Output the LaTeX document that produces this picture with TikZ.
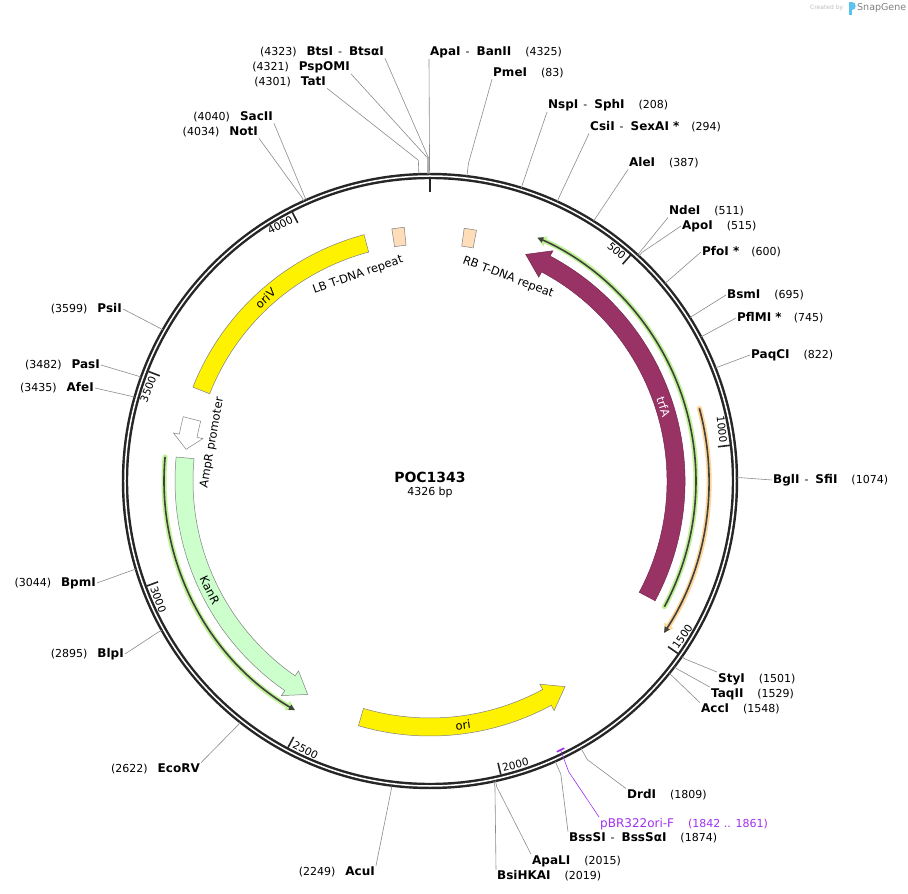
\documentclass[tikz,border=0pt]{standalone}
\usepackage{fontspec}
\setmainfont{DejaVu Sans}
\usetikzlibrary{arrows.meta}

\definecolor{sitegray}{HTML}{8C8C8C}
\definecolor{trfa}{HTML}{993366}
\definecolor{kanr}{HTML}{CCFFCC}
\definecolor{tdna}{HTML}{FFDDB8}
\definecolor{orfgreen}{HTML}{BFF293}
\definecolor{orforange}{HTML}{FFD596}
\definecolor{primer}{HTML}{A030F0}
\definecolor{sgblue}{HTML}{5BC4EE}

% enzyme name, bold and a bit larger than the position
\newcommand{\nm}[1]{{\fontsize{12}{14}\selectfont\bfseries #1}}
\newcommand{\dsh}{\hspace{5pt}-\hspace{7pt}}
% name, bp, bend radius, label point, label anchor, line anchor, text
\newcommand{\site}[7]{%
  \coordinate (#1c) at ({ang(#2)}:307pt);
  \coordinate (#1b) at ({ang(#2)}:#3pt);
  \node[enz, anchor=#5] (#1) at (#4) {#7};
  \draw[siteline] (#1c) -- (#1b) -- (#1.#6);}
% feature band without / with head
\newcommand{\featbox}[3]{%
  \draw[#1] (#2:237pt) arc[start angle=#2, end angle=#3, radius=237pt]
    -- (#3:255pt) arc[start angle=#3, end angle=#2, radius=255pt] -- cycle;}
\newcommand{\featarrow}[4]{%
  \pgfmathsetmacro\hb{#3-#4}
  \draw[#1] (#2:237pt) arc[start angle=#2, end angle=\hb, radius=237pt]
    -- (\hb:231pt) -- (#3:246pt) -- (\hb:261pt) -- (\hb:255pt)
    arc[start angle=\hb, end angle=#2, radius=255pt] -- cycle;}
% open reading frame: glow colour, radius, from, to
\newcommand{\orfline}[4]{%
  \draw[line width=5pt, #1, line cap=round, -{Triangle[length=9pt,width=10pt]}]
    (#3:#2pt) arc[start angle=#3, end angle=#4, radius=#2pt];
  \draw[line width=1.6pt, black!75, -{Triangle[length=6pt,width=5.5pt]}]
    (#3:#2pt) arc[start angle=#3, end angle=#4, radius=#2pt];}

\begin{document}
\begin{tikzpicture}[x=1pt, y=1pt,
  declare function={ang(\p)=90-\p/12.016667;},
  enz/.style={font=\fontsize{11}{13}\selectfont, inner sep=1pt},
  siteline/.style={draw=sitegray, line width=0.6pt},
  flab/.style={font=\fontsize{11.5}{13}\selectfont, inner sep=0pt},
  scaletick/.style={line width=1.6pt, black!85},
  tickl/.style={font=\fontsize{10.5}{12}\selectfont, inner sep=0.5pt},
  feat/.style={draw=black!50, line width=0.5pt}]
  \useasboundingbox (-430,-413) rectangle (478,481);
  \fill[white] (-430,-413) rectangle (478,481);

  % ORFs
  \orfline{orfgreen}{266}{-28.2}{66.2}
  \orfline{orforange}{279}{15.1}{-33}
  \orfline{orfgreen}{266}{174.8}{239.5}

  % features
  \featbox{feat, fill=yellow}{105}{158.4}
  \featbox{feat, fill=tdna}{95.8}{98.6}
  \featbox{feat, fill=tdna}{79.5}{82.3}
  \featarrow{feat, fill=white}{165.4}{172.6}{3.2}
  \featarrow{feat, fill=kanr}{174.6}{240.2}{4.9}
  \featarrow{feat, fill=yellow}{253.7}{303.3}{4.9}
  \featarrow{draw=trfa!75!black, line width=0.5pt, fill=trfa}{-28}{67.1}{5.2}

  \node[flab, rotate=42] (oriV) at (132:246pt) {oriV};
  \node[flab, rotate=19.3] (lbrep) at (109.3:218pt) {LB T-DNA repeat};
  \node[flab, rotate=-21] (rbrep) at (69:218pt) {RB T-DNA repeat};
  \node[flab, rotate=80] (ampp) at (170:221pt) {AmpR promoter};
  \node[flab, rotate=-63.6] (kanR) at (206.4:246pt) {KanR};
  \node[flab, rotate=7.7] (ori) at (277.7:246pt) {ori};
  \node[flab, rotate=-72.4, text=white] (trfA) at (17.6:245pt) {trfA};

  % backbone
  \draw[line width=6.4pt, black!85] (0,0) circle[radius=305pt];
  \draw[line width=1.5pt, white] (0,0) circle[radius=305pt];
  \draw[line width=2.6pt, black!85] (90:289pt) -- (90:303pt);
  \foreach \t in {500,1000,...,4000}{
    \pgfmathsetmacro\th{ang(\t)}
    \pgfmathtruncatemacro\up{sin(\th)>0}
    \ifnum\up=1 \def\anc{east}\def\rot{\th-90}\else\def\anc{west}\def\rot{\th+90}\fi
    \draw[scaletick] (\th:290pt) -- (\th:302pt);
    \node[tickl, anchor=\anc, rotate=\rot] (t\t) at ({\th+0.5}:296pt) {\t};
  }

  % primer
  \draw[primer, line width=1.6pt] (-63.3:299pt) arc[start angle=-63.3, end angle=-64.9, radius=299pt];
  \coordinate (pmark) at (-64.1:299pt);
  \coordinate (pbend) at (-64.5:322pt);
  \node[enz, anchor=north west, text=primer] (pbrF) at (169,-336)
    {{\fontsize{12}{14}\selectfont pBR322ori-F}\hspace{14pt}(1842 .. 1861)};
  \draw[primer, line width=0.6pt] (pmark) -- (pbend) -- (pbrF.north west);

  % restriction sites
  \site{apaI}{4325}{320}{-1,429}{west}{south west}{\nm{ApaI}\dsh\nm{BanII}\hspace{14pt}(4325)}
  \site{pmeI}{83}{320}{62,408}{west}{south west}{\nm{PmeI}\hspace{14pt}(83)}
  \site{nspI}{208}{311}{117,376}{west}{south west}{\nm{NspI}\dsh\nm{SphI}\hspace{14pt}(208)}
  \site{csiI}{294}{314}{159,354}{west}{south west}{\nm{CsiI}\dsh\nm{SexAI *}\hspace{12pt}(294)}
  \site{aleI}{387}{312}{198,318}{west}{south west}{\nm{AleI}\hspace{14pt}(387)}
  \site{ndeI}{511}{311}{238,270}{west}{south west}{\nm{NdeI}\hspace{14pt}(511)}
  \site{apoI}{515}{312}{251,255}{west}{west}{\nm{ApoI}\hspace{14pt}(515)}
  \site{pfoI}{600}{311}{271,229}{west}{west}{\nm{PfoI *}\hspace{12pt}(600)}
  \site{bsmI}{695}{311}{296,186}{west}{west}{\nm{BsmI}\hspace{14pt}(695)}
  \site{pflMI}{745}{311}{306,163}{west}{west}{\nm{PflMI *}\hspace{12pt}(745)}
  \site{paqCI}{822}{311}{320,126}{west}{west}{\nm{PaqCI}\hspace{14pt}(822)}
  \site{bglI}{1074}{310}{342,1}{west}{west}{\nm{BglI}\dsh\nm{SfiI}\hspace{14pt}(1074)}
  \site{styI}{1501}{311}{287,-198}{west}{north west}{\nm{StyI}\hspace{14pt}(1501)}
  \site{taqII}{1529}{311}{280,-213}{west}{north west}{\nm{TaqII}\hspace{14pt}(1529)}
  \site{accI}{1548}{310}{270,-228}{west}{north west}{\nm{AccI}\hspace{14pt}(1548)}
  \site{drdI}{1809}{320}{196,-314}{west}{north west}{\nm{DrdI}\hspace{14pt}(1809)}
  \site{bssSI}{1874}{321}{138,-357}{west}{north west}{\nm{BssSI}\dsh\nm{BssSαI}\hspace{14pt}(1874)}
  \site{apaLI}{2015}{313}{101,-380}{west}{north west}{\nm{ApaLI}\hspace{14pt}(2015)}
  \site{bsiHKAI}{2019}{313}{66,-395}{west}{north west}{\nm{BsiHKAI}\hspace{14pt}(2019)}
  \site{btsI}{4323}{323}{-45,429}{east}{south east}{(4323)\hspace{10pt}\nm{BtsI}\dsh\nm{BtsαI}}
  \site{pspOMI}{4321}{323}{-79,414}{east}{south east}{(4321)\hspace{10pt}\nm{PspOMI}}
  \site{tatI}{4301}{321}{-103,399}{east}{south east}{(4301)\hspace{10pt}\nm{TatI}}
  \site{sacII}{4040}{311}{-156,364}{east}{south east}{(4040)\hspace{10pt}\nm{SacII}}
  \site{notI}{4034}{311}{-171,349}{east}{south east}{(4034)\hspace{10pt}\nm{NotI}}
  \site{psiI}{3599}{311}{-307,172}{east}{east}{(3599)\hspace{10pt}\nm{PsiI}}
  \site{pasI}{3482}{311}{-329,116}{east}{east}{(3482)\hspace{10pt}\nm{PasI}}
  \site{afeI}{3435}{309}{-335,93}{east}{east}{(3435)\hspace{10pt}\nm{AfeI}}
  \site{bpmI}{3044}{310}{-333,-102}{east}{east}{(3044)\hspace{10pt}\nm{BpmI}}
  \site{blpI}{2895}{311}{-305,-173}{east}{east}{(2895)\hspace{10pt}\nm{BlpI}}
  \site{ecoRV}{2622}{311}{-229,-288}{east}{north east}{(2622)\hspace{10pt}\nm{EcoRV}}
  \site{acuI}{2249}{311}{-54,-391}{east}{north east}{(2249)\hspace{10pt}\nm{AcuI}}

  % title
  \node[font=\fontsize{14}{16}\selectfont\bfseries] (title) at (0,4) {POC1343};
  \node[font=\fontsize{11}{13}\selectfont] (size) at (0,-11) {4326 bp};

  % credit
  \node[anchor=west, inner sep=0pt, font=\fontsize{6}{7}\selectfont, text=black!25] (credit) at (380,473) {Created by};
  \fill[sgblue] (419,466) rectangle (421.5,479);
  \fill[sgblue] (421.5,479) .. controls (426.5,479) and (426.5,471) .. (421.5,471) -- cycle;
  \node[anchor=west, inner sep=0pt, font=\fontsize{9.5}{11}\selectfont, text=black!50] (sgname) at (427,473) {SnapGene};
\end{tikzpicture}
\end{document}
